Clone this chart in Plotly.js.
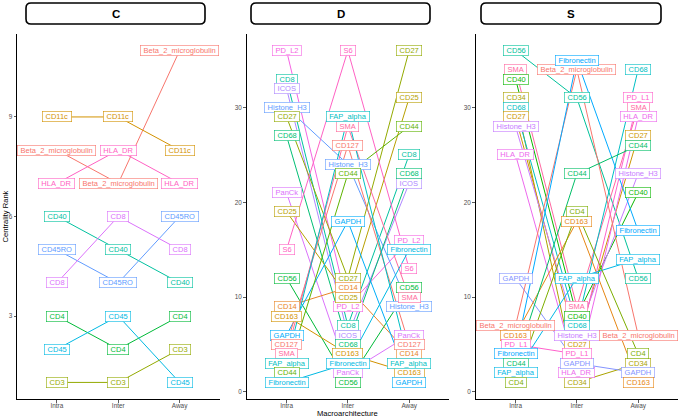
<!DOCTYPE html>
<html>
<head>
<meta charset="utf-8">
<script src="https://cdn.plot.ly/plotly-3.0.1.min.js"></script>
<style>html,body{margin:0;padding:0;background:#fff;}#chart{width:680px;height:418px;}</style>
</head>
<body>
<div id="chart"></div>
<script>
// ---------------- data ----------------
const stages = ['Intra', 'Inter', 'Away'];
const panels = ['C', 'D', 'S'];

const markersC = ['Beta_2_microglobulin','CD11c','HLA_DR','CD40','CD45RO','CD8','CD4','CD45','CD3'];
const intraC = [8, 9, 7, 6, 5, 4, 3, 2, 1];
const interC = [7, 9, 8, 5, 4, 6, 2, 3, 1];
const awayC  = [11, 8, 7, 4, 6, 5, 3, 1, 2];

const markersD = ['PD_L2','CD8','ICOS','Histone_H3','CD27','CD68','PanCk','CD25','S6','CD56','CD14','CD163','GAPDH','CD127','SMA','FAP_alpha','CD44','Fibronectin'];
const intraD = [36, 33, 32, 30, 29, 27, 21, 19, 15, 12, 9, 8, 6, 5, 4, 3, 2, 1];
const interD = [9, 7, 6, 24, 12, 5, 2, 10, 36, 1, 11, 4, 18, 26, 28, 29, 23, 3];
const awayD  = [16, 25, 22, 9, 36, 23, 6, 31, 13, 11, 4, 2, 1, 5, 10, 3, 28, 15];

const markersS = ['CD56','SMA','CD40','CD34','CD68','CD27','Histone_H3','HLA_DR','GAPDH','Beta_2_microglobulin','CD163','PD_L1','Fibronectin','CD44','FAP_alpha','CD4'];
const intraS = [36, 34, 33, 31, 30, 29, 28, 25, 12, 7, 6, 5, 4, 3, 2, 1];
const interS = [31, 9, 8, 1, 7, 5, 6, 2, 3, 34, 18, 4, 35, 23, 12, 19];
const awayS  = [12, 30, 21, 3, 34, 27, 23, 29, 2, 6, 1, 31, 17, 26, 14, 4];

const yTicksC = [3, 6, 9];
const yTicksDS = [0, 10, 20, 30];

// ---------------- style helpers ----------------
const W = 680, H = 418;
const FONT = 'Liberation Sans, Arial, Helvetica, sans-serif';
const px = v => v / W;
const py = v => 1 - v / H;

function hcl2hex(h, c, l) {
  const hr = h * Math.PI / 180;
  const U = c * Math.cos(hr), V = c * Math.sin(hr);
  const Xn = 95.047, Yn = 100.0, Zn = 108.883;
  const Y = l > 7.999592 ? Yn * Math.pow((l + 16) / 116, 3) : Yn * l / 903.3;
  const t = Xn + Yn + Zn, x = Xn / t, y = Yn / t;
  const uN = 2 * x / (6 * y - x + 1.5), vN = 4.5 * y / (6 * y - x + 1.5);
  const u = U / (13 * l) + uN, v = V / (13 * l) + vN;
  const X = 9.0 * Y * u / (4 * v);
  const Z = -X / 3 - 5 * Y + 3 * Y / v;
  const lin = [3.240479 * X - 1.537150 * Y - 0.498535 * Z,
              -0.969256 * X + 1.875992 * Y + 0.041556 * Z,
               0.055648 * X - 0.204043 * Y + 1.057311 * Z].map(q => q / 100);
  const g = q => q > 0.00304 ? 1.055 * Math.pow(q, 1 / 2.4) - 0.055 : 12.92 * q;
  return '#' + lin.map(q => Math.round(255 * Math.min(1, Math.max(0, g(q)))).toString(16).padStart(2, '0')).join('');
}
function huePal(names) {
  const key = s => s.toLowerCase().replace(/_/g, '');
  const sorted = names.slice().sort((a, b) => key(a) < key(b) ? -1 : key(a) > key(b) ? 1 : 0);
  const n = sorted.length, map = {};
  sorted.forEach((m, i) => { map[m] = hcl2hex(15 + 360 * i / n, 100, 65); });
  return map;
}

const canvas = document.createElement('canvas');
const ctx = canvas.getContext('2d');
const LABEL_SIZE = 7.5;
ctx.font = LABEL_SIZE + 'px "Liberation Sans"';
const textW = s => ctx.measureText(s).width;

// panel geometry (pixels)
const xDom = [[17, 219.5], [246.7, 449], [475.7, 678]];
const yDom = [34, 399];
const yRanges = [[0.5, 11.5], [-0.75, 37.75], [-0.75, 37.75]];
const strips = [[26, 205], [251, 430], [481, 661]];

const panelData = [
  {markers: markersC, vals: [intraC, interC, awayC], ticks: yTicksC},
  {markers: markersD, vals: [intraD, interD, awayD], ticks: yTicksDS},
  {markers: markersS, vals: [intraS, interS, awayS], ticks: yTicksDS}
];

const traces = [];
const annotations = [];
const shapes = [];
const layout = {
  width: W, height: H,
  margin: {l: 0, r: 0, t: 0, b: 0},
  paper_bgcolor: '#fff', plot_bgcolor: '#fff',
  showlegend: false,
  font: {family: FONT},
  annotations: annotations, shapes: shapes
};

panelData.forEach((p, pi) => {
  const sfx = pi === 0 ? '' : String(pi + 1);
  const xa = 'x' + sfx, ya = 'y' + sfx;
  const pal = huePal(p.markers);
  layout['xaxis' + sfx] = {
    domain: [px(xDom[pi][0]), px(xDom[pi][1])], anchor: ya,
    type: 'category', categoryorder: 'array', categoryarray: stages,
    range: [-0.65, 2.65], showgrid: false, zeroline: false,
    showline: true, linecolor: '#000', linewidth: 1,
    ticks: 'outside', ticklen: 2.5, tickwidth: 0.8, tickcolor: '#333',
    ticklabelstandoff: -2,
    tickfont: {size: 6.4, color: '#4D4D4D', family: FONT}, fixedrange: true
  };
  layout['yaxis' + sfx] = {
    domain: [py(yDom[1]), py(yDom[0])], anchor: xa,
    range: yRanges[pi], tickvals: p.ticks, showgrid: false, zeroline: false,
    showline: true, linecolor: '#000', linewidth: 1,
    ticks: 'outside', ticklen: 2.5, tickwidth: 0.8, tickcolor: '#333',
    tickfont: {size: 6.4, color: '#4D4D4D', family: FONT}, fixedrange: true
  };
  p.markers.forEach((m, mi) => {
    const col = pal[m];
    traces.push({
      type: 'scatter', mode: 'lines', xaxis: xa, yaxis: ya,
      x: stages, y: stages.map((s, si) => p.vals[si][mi]),
      line: {color: col, width: 1}, hoverinfo: 'skip', showlegend: false
    });
  });
  p.markers.forEach((m, mi) => {
    const col = pal[m];
    stages.forEach((s, si) => {
      annotations.push({
        xref: xa, yref: ya, x: stages.indexOf(s), y: p.vals[si][mi],
        text: m, showarrow: false,
        font: {size: LABEL_SIZE, color: col, family: FONT},
        bgcolor: '#fff', bordercolor: col, borderwidth: 0.6, borderpad: 0.3,
        width: textW(m) + 5.4, xanchor: 'center', yanchor: 'middle'
      });
    });
  });
  // strip
  const [sx0, sx1] = strips[pi], sy0 = 3, sy1 = 24, r = 5;
  const P = (x, y) => px(x).toFixed(5) + ',' + py(y).toFixed(5);
  shapes.push({
    type: 'path', xref: 'paper', yref: 'paper', layer: 'above',
    path: 'M' + P(sx0 + r, sy0) + ' L' + P(sx1 - r, sy0) + ' Q' + P(sx1, sy0) + ' ' + P(sx1, sy0 + r) +
          ' L' + P(sx1, sy1 - r) + ' Q' + P(sx1, sy1) + ' ' + P(sx1 - r, sy1) +
          ' L' + P(sx0 + r, sy1) + ' Q' + P(sx0, sy1) + ' ' + P(sx0, sy1 - r) +
          ' L' + P(sx0, sy0 + r) + ' Q' + P(sx0, sy0) + ' ' + P(sx0 + r, sy0) + ' Z',
    line: {color: '#000', width: 1.6}, fillcolor: '#fff'
  });
  annotations.push({
    xref: 'paper', yref: 'paper', x: px((sx0 + sx1) / 2), y: py((sy0 + sy1) / 2),
    text: '<b>' + panels[pi] + '</b>', showarrow: false, xanchor: 'center', yanchor: 'middle',
    font: {size: 11.5, color: '#000', family: FONT}
  });
});

// axis titles
annotations.push({
  xref: 'paper', yref: 'paper', x: px(347.5), y: py(413), text: 'Macroarchitecture',
  showarrow: false, xanchor: 'center', yanchor: 'middle', font: {size: 7.6, color: '#000', family: FONT}
});
annotations.push({
  xref: 'paper', yref: 'paper', x: px(5), y: py(216.5), text: 'Centrality Rank', textangle: -90,
  showarrow: false, xanchor: 'center', yanchor: 'middle', font: {size: 7.6, color: '#000', family: FONT}
});

Plotly.newPlot('chart', traces, layout, {staticPlot: true, displayModeBar: false});
</script>
</body>
</html>
